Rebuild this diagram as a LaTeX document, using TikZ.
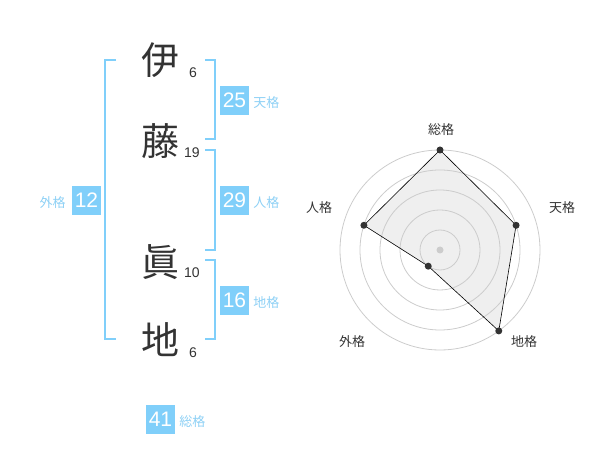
\documentclass[tikz,border=0pt]{standalone}
\usepackage{fontspec}
\setmainfont{Liberation Sans}
\newfontfamily\jp{Noto Sans CJK JP}
\usetikzlibrary{positioning}
\definecolor{kblue}{HTML}{80CFFA}
\definecolor{klabel}{HTML}{8DD0F5}
\definecolor{kink}{HTML}{333333}
\definecolor{kgrid}{HTML}{CCCCCC}
\definecolor{kfill}{HTML}{EFEFEF}

\begin{document}
\begin{tikzpicture}[x=1pt,y=1pt,
  kanji/.style={text=kink,font=\jp\fontsize{38}{38}\selectfont,inner sep=0},
  strokes/.style={text=kink,font=\fontsize{14}{14}\selectfont,inner sep=0},
  score/.style={fill=kblue,text=white,minimum size=29pt,inner sep=0,font=\fontsize{21}{21}\selectfont},
  kaku/.style={text=klabel,font=\jp\fontsize{13}{13}\selectfont,inner sep=0},
  brack/.style={draw=kblue,line width=2pt},
  axis/.style={text=kink,font=\jp\fontsize{13}{13}\selectfont,inner sep=0}]
\useasboundingbox (0,0) rectangle (600,-470);

% name
\node[kanji] (c1) at (160,-60) {伊};
\node[kanji] (c2) at (160,-141) {藤};
\node[kanji] (c3) at (160,-262) {眞};
\node[kanji] (c4) at (160,-340) {地};

\node[strokes] (n1) at (193,-73) {6};
\node[strokes] (n2) at (192,-153) {19};
\node[strokes] (n3) at (192,-273) {10};
\node[strokes] (n4) at (193,-353) {6};

% brackets
\draw[brack] (116,-60) -- (105,-60) -- (105,-339) -- (116,-339);
\draw[brack] (205,-60) -- (215,-60) -- (215,-139) -- (205,-139);
\draw[brack] (205,-150) -- (215,-150) -- (215,-250) -- (205,-250);
\draw[brack] (205,-260) -- (215,-260) -- (215,-339) -- (205,-339);

% scores
\node[score] (ten) at (234.5,-100.5) {25};
\node[kaku,right=4pt of ten,yshift=-2pt] (ten-l) {天格};
\node[score] (jin) at (234.5,-200.5) {29};
\node[kaku,right=4pt of jin,yshift=-2pt] (jin-l) {人格};
\node[score] (chi) at (234.5,-300.5) {16};
\node[kaku,right=4pt of chi,yshift=-2pt] (chi-l) {地格};
\node[score] (gai) at (86.5,-200.5) {12};
\node[kaku,left=6pt of gai,yshift=-2pt] (gai-l) {外格};
\node[score] (sou) at (160.5,-419.5) {41};
\node[kaku,right=4pt of sou,yshift=-2pt] (sou-l) {総格};

% radar
\coordinate (o) at (440,-250);
\coordinate (p1) at ([shift={(90:100pt)}]o);
\coordinate (p2) at ([shift={(18:80pt)}]o);
\coordinate (p3) at ([shift={(-54:100pt)}]o);
\coordinate (p4) at ([shift={(-126:20pt)}]o);
\coordinate (p5) at ([shift={(162:80pt)}]o);
\fill[kfill] (p1) -- (p2) -- (p3) -- (p4) -- (p5) -- cycle;
\foreach \r in {20,40,60,80,100}
  \draw[kgrid,line width=0.8pt] (o) circle (\r pt);
\fill[kgrid] (o) circle (3.5pt);
\draw[black,line width=0.6pt] (p1) -- (p2) -- (p3) -- (p4) -- (p5) -- cycle;
\foreach \p in {p1,p2,p3,p4,p5}
  \fill[kink] (\p) circle (3.5pt);

\node[axis] (a1) at (441,-130) {総格};
\node[axis] (a2) at (562,-208) {天格};
\node[axis] (a3) at (524,-342) {地格};
\node[axis] (a4) at (352,-342) {外格};
\node[axis] (a5) at (319,-208) {人格};
\end{tikzpicture}
\end{document}
